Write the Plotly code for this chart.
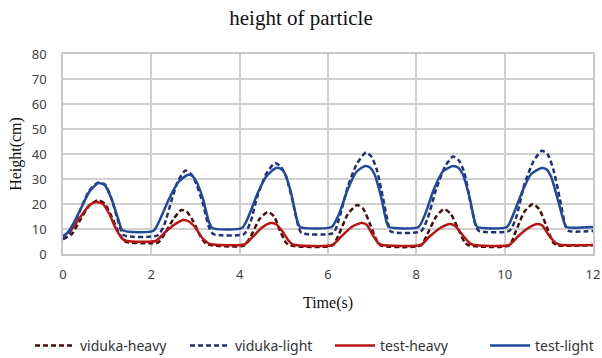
import plotly.graph_objects as go

# ---- data ----
t_test_light = [0, 0.1, 0.2, 0.4, 0.6, 0.8, 0.95, 1.1, 1.25, 1.35, 2.05,
                2.2, 2.4, 2.6, 2.82, 2.92, 3.02, 3.17, 3.3, 3.38, 4.05,
                4.2, 4.4, 4.6, 4.82, 4.93, 5.03, 5.17, 5.3, 5.37, 6.08,
                6.25, 6.45, 6.65, 6.84, 6.95, 7.05, 7.2, 7.33, 7.38, 8.05,
                8.2, 8.4, 8.6, 8.83, 8.95, 9.05, 9.2, 9.33, 9.38, 10.05,
                10.2, 10.4, 10.6, 10.84, 10.95, 11.05, 11.2, 11.35, 11.4, 12]
y_test_light = [7, 8.5, 11, 18, 25, 28.4, 27.5, 22, 14, 9.5, 9.3,
                14, 22, 28.5, 31.6, 31.3, 29, 22, 13, 10.4, 10.4,
                15, 24, 31, 34.4, 34.1, 32, 24, 13.5, 10.8, 10.8,
                16, 26, 33, 35.2, 34.6, 32, 23, 12.5, 10.8, 10.8,
                16, 26, 33, 35.2, 34.5, 32, 23, 12.5, 10.8, 10.8,
                16, 25, 32, 34.4, 33.8, 31, 22, 12.5, 10.8, 10.8]

t_viduka_light = [0, 0.1, 0.2, 0.4, 0.6, 0.8, 0.95, 1.1, 1.25, 1.38, 2.15,
                  2.3, 2.45, 2.6, 2.77, 2.9, 3.02, 3.17, 3.3, 3.4, 4.1,
                  4.25, 4.4, 4.6, 4.8, 4.93, 5.05, 5.2, 5.33, 5.4, 6.12,
                  6.25, 6.45, 6.65, 6.86, 6.98, 7.1, 7.25, 7.37, 7.42, 8.1,
                  8.25, 8.45, 8.65, 8.83, 8.96, 9.08, 9.22, 9.35, 9.42, 10.1,
                  10.25, 10.45, 10.65, 10.84, 10.97, 11.1, 11.25, 11.38, 11.45, 12]
y_viduka_light = [6, 7, 10, 18, 25.5, 28.6, 27.8, 22, 13, 7.5, 7.5,
                  12, 21, 29, 33.4, 32, 28, 20, 11, 8.0, 8.0,
                  13, 23, 32, 36.4, 35, 31, 21, 11, 8.4, 8.4,
                  14, 27, 36, 40.6, 39, 34, 22, 11.5, 9.0, 9.0,
                  14, 26, 35, 39.0, 37.5, 33, 21, 11, 9.2, 9.2,
                  14, 28, 37, 41.3, 40, 34, 22, 11, 9.2, 9.2]

t_test_heavy = [0, 0.2, 0.4, 0.6, 0.75, 0.9, 1.05, 1.2, 1.35, 1.45, 2.1,
                2.3, 2.5, 2.72, 2.85, 3.0, 3.15, 3.3, 3.4, 4.1,
                4.3, 4.5, 4.7, 4.82, 4.97, 5.1, 5.2, 6.1,
                6.3, 6.55, 6.75, 6.87, 7.0, 7.13, 7.2, 8.1,
                8.3, 8.55, 8.76, 8.88, 9.05, 9.2, 9.28, 10.1,
                10.3, 10.5, 10.73, 10.85, 11.0, 11.15, 11.25, 12]
y_test_heavy = [7, 10, 15, 19.5, 20.8, 20, 16, 10, 6, 5.2, 5.2,
                8.5, 11.5, 13.6, 13, 10.5, 6.5, 4.2, 3.8, 3.8,
                7, 10.5, 12.4, 12, 9, 5.5, 3.8, 3.6,
                7, 11, 12.4, 11.8, 8, 4.5, 3.7, 3.6,
                7, 10.5, 12, 11.2, 7.5, 4.5, 3.7, 3.6,
                7, 10, 12, 11.4, 7.5, 4.5, 3.7, 3.6]

t_viduka_heavy = [0, 0.2, 0.4, 0.6, 0.8, 0.95, 1.1, 1.25, 1.4, 1.95, 2.15,
                  2.3, 2.5, 2.68, 2.8, 2.95, 3.1, 3.25, 4.1,
                  4.25, 4.45, 4.64, 4.78, 4.92, 5.05, 5.15, 6.1,
                  6.25, 6.45, 6.66, 6.8, 6.95, 7.1, 7.2, 8.1,
                  8.25, 8.45, 8.63, 8.78, 8.95, 9.1, 9.2, 10.1,
                  10.25, 10.45, 10.64, 10.78, 10.95, 11.1, 11.2, 12]
y_viduka_heavy = [6, 8, 14, 19.5, 21.5, 20, 15, 9, 5, 4.3, 4.5,
                  8, 14, 17.6, 17, 13, 7.5, 4, 3.4,
                  7, 14, 16.8, 15, 9, 4.5, 3.4, 3.4,
                  8, 16, 19.6, 18, 12, 5.5, 3.4, 3.4,
                  8, 15, 18, 16, 10, 4.5, 3.4, 3.4,
                  9, 17, 20, 18, 11, 4.5, 3.5, 3.5]

x_ticks = [0, 2, 4, 6, 8, 10, 12]
y_ticks = [0, 10, 20, 30, 40, 50, 60, 70, 80]

# ---- figure ----
fig = go.Figure()
common = dict(mode="lines", line_shape="spline")
fig.add_trace(go.Scatter(x=t_viduka_heavy, y=y_viduka_heavy, name="viduka-heavy", legend="legend",
                         line=dict(color="#4a0d0d", width=2.5, dash="5px,3px", smoothing=0.6), **common))
fig.add_trace(go.Scatter(x=t_viduka_light, y=y_viduka_light, name="viduka-light", legend="legend2",
                         line=dict(color="#1f2f78", width=2.5, dash="5px,3px", smoothing=0.6), **common))
fig.add_trace(go.Scatter(x=t_test_heavy, y=y_test_heavy, name="test-heavy", legend="legend3",
                         line=dict(color="#b81414", width=2.5, smoothing=0.6), **common))
fig.add_trace(go.Scatter(x=t_test_light, y=y_test_light, name="test-light", legend="legend4",
                         line=dict(color="#1f4a9c", width=2.5, smoothing=0.6), **common))

axis_common = dict(showgrid=True, gridcolor="#d0d0d0", gridwidth=1.5,
                   showline=True, linecolor="#c8c8c8", linewidth=1.5, mirror=True,
                   zeroline=False, ticks="", automargin=False,
                   tickfont=dict(family="Noto Sans", size=13, color="#404040"))


def leg(px):
    return dict(orientation="h", x=px / 602, xanchor="left", xref="container",
                y=12 / 358, yanchor="middle", yref="container",
                font=dict(family="Noto Sans", size=14, color="#333333"),
                itemwidth=40, bgcolor="rgba(0,0,0,0)")


fig.update_layout(
    width=602, height=358,
    margin=dict(l=63, r=9, t=54, b=104),
    paper_bgcolor="white", plot_bgcolor="white",
    title=dict(text="height of particle", x=0.5, xanchor="center", y=0.95, yanchor="middle",
               font=dict(family="Liberation Serif", size=21, color="#111111")),
    xaxis=dict(range=[0, 12], tickvals=x_ticks, ticklabelstandoff=8,
               title=dict(text="Time(s)", font=dict(family="Liberation Serif", size=16, color="#111111"),
                          standoff=14),
               **axis_common),
    yaxis=dict(range=[0, 80], tickvals=y_ticks, ticklabelstandoff=12,
               title=dict(text="Height(cm)", font=dict(family="Liberation Serif", size=16, color="#111111"),
                          standoff=6),
               **axis_common),
    legend=leg(30),
    legend2=leg(185),
    legend3=leg(330),
    legend4=leg(485),
    showlegend=True,
)

fig.write_html("out.html")
